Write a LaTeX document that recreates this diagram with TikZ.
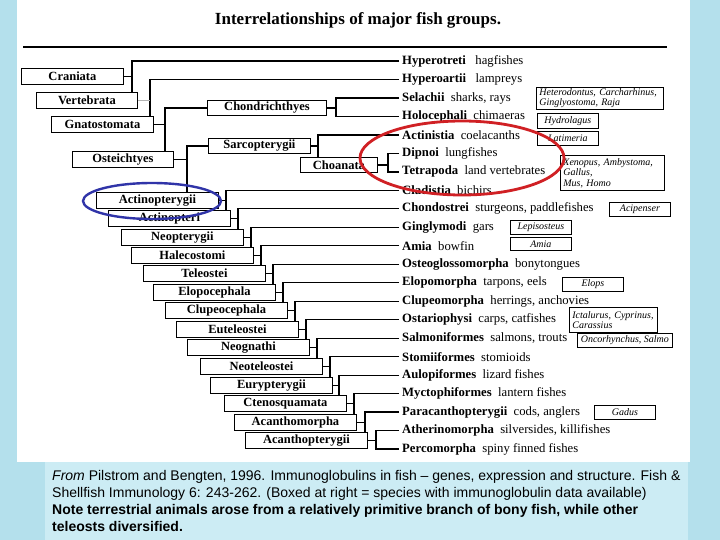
\documentclass[tikz,border=0pt]{standalone}
\usepackage{fontspec}
\setmainfont{Liberation Serif}
\setsansfont{Liberation Sans}
\usetikzlibrary{calc}
\usetikzlibrary{shadows}

\definecolor{water}{RGB}{180,224,236}
\definecolor{capblue}{RGB}{204,236,244}
\definecolor{ringred}{RGB}{208,32,36}
\definecolor{ringblue}{RGB}{48,52,168}

\tikzset{
  grp/.style={draw=black, line width=0.9pt, fill=white, anchor=north west, inner sep=0pt,
    minimum height=16pt, font=\bfseries\fontsize{12.5}{12.5}\selectfont,
    drop shadow={shadow xshift=1pt, shadow yshift=-1pt, fill=black!45, opacity=0.8}},
  stair/.style={grp, minimum width=122pt},
  leaf/.style={anchor=west, inner xsep=3pt, inner ysep=0pt, font=\fontsize{12.7}{12.7}\selectfont},
  spec/.style={draw=black, line width=0.8pt, fill=white, anchor=north west, inner xsep=3pt,
    inner ysep=1pt, align=center, font=\itshape\fontsize{10}{10.5}\selectfont},
  branch/.style={line width=1.3pt, black},
}

\begin{document}
\begin{tikzpicture}[x=1pt,y=-1pt]
        \useasboundingbox (0,0) rectangle (720,540);
        % page
        \fill[water] (0,0) rectangle (720,540);
        \fill[white] (17,0) rectangle (690,462);
        \fill[capblue] (45,462) rectangle (688,540);

        \node[font=\bfseries\fontsize{17}{17}\selectfont] (title) at (358,20) {Interrelationships of major fish groups.};
        \draw[line width=2pt] (23,47) -- (667,47);

        % groups
        \node[grp, minimum width=102pt] (craniata) at (21,68) {Craniata};
        \node[grp, minimum width=101pt] (vertebrata) at (36,92) {Vertebrata};
        \node[grp, minimum width=102pt] (gnatostomata) at (51,116) {Gnatostomata};
        \node[grp, minimum width=101pt] (osteichtyes) at (72,151) {Osteichtyes};
        \node[grp, minimum width=119pt, minimum height=15pt] (chondrichthyes) at (207,100) {Chondrichthyes};
        \node[grp, minimum width=102pt, minimum height=15pt] (sarcopterygii) at (208,138) {Sarcopterygii};
        \node[grp, minimum width=77pt, minimum height=15pt] (choanata) at (300,157) {Choanata};

        \node[stair] (actinopterygii) at (96,192) {Actinopterygii};
        \node[stair] (actinopteri) at (108,210) {Actinopteri};
        \node[stair] (neopterygii) at (121,229) {Neopterygii};
        \node[stair] (halecostomi) at (131,247) {Halecostomi};
        \node[stair] (teleostei) at (143,265) {Teleostei};
        \node[stair] (elopocephala) at (153,284) {Elopocephala};
        \node[stair] (clupeocephala) at (165,302) {Clupeocephala};
        \node[stair] (euteleostei) at (176,321) {Euteleostei};
        \node[stair] (neognathi) at (187,339) {Neognathi};
        \node[stair] (neoteleostei) at (200,358) {Neoteleostei};
        \node[stair] (eurypterygii) at (210,377) {Eurypterygii};
        \node[stair] (ctenosquamata) at (224,395) {Ctenosquamata};
        \node[stair] (acanthomorpha) at (234,414) {Acanthomorpha};
        \node[stair] (acanthopterygii) at (245,432) {Acanthopterygii};

        % terminal taxa
        \node[leaf] (hyperotreti) at (399,61.0) {\textbf{Hyperotreti}~~~hagfishes};
        \node[leaf] (hyperoartii) at (399,79.5) {\textbf{Hyperoartii}~~~lampreys};
        \node[leaf] (selachii) at (399,98.0) {\textbf{Selachii}~~sharks, rays};
        \node[leaf] (holocephali) at (399,116.4) {\textbf{Holocephali}~~chimaeras};
        \node[leaf] (actinistia) at (399,134.9) {\textbf{Actinistia}~~coelacanths};
        \node[leaf] (dipnoi) at (399,153.4) {\textbf{Dipnoi}~~lungfishes};
        \node[leaf] (tetrapoda) at (399,171.9) {\textbf{Tetrapoda}~~land vertebrates};
        \node[leaf] (cladistia) at (399,190.4) {\textbf{Cladistia}~~bichirs};
        \node[leaf] (chondostrei) at (399,208.8) {\textbf{Chondostrei}~~sturgeons, paddlefishes};
        \node[leaf] (ginglymodi) at (399,227.3) {\textbf{Ginglymodi}~~gars};
        \node[leaf] (amia) at (399,245.8) {\textbf{Amia}~~bowfin};
        \node[leaf] (osteoglossomorpha) at (399,264.3) {\textbf{Osteoglossomorpha}~~bonytongues};
        \node[leaf] (elopomorpha) at (399,282.8) {\textbf{Elopomorpha}~~tarpons, eels};
        \node[leaf] (clupeomorpha) at (399,301.2) {\textbf{Clupeomorpha}~~herrings, anchovies};
        \node[leaf] (ostariophysi) at (399,319.7) {\textbf{Ostariophysi}~~carps, catfishes};
        \node[leaf] (salmoniformes) at (399,338.2) {\textbf{Salmoniformes}~~salmons, trouts};
        \node[leaf] (stomiiformes) at (399,356.7) {\textbf{Stomiiformes}~~stomioids};
        \node[leaf] (aulopiformes) at (399,375.2) {\textbf{Aulopiformes}~~lizard fishes};
        \node[leaf] (myctophiformes) at (399,393.6) {\textbf{Myctophiformes}~~lantern fishes};
        \node[leaf] (paracanthopterygii) at (399,412.1) {\textbf{Paracanthopterygii}~~cods, anglers};
        \node[leaf] (atherinomorpha) at (399,430.6) {\textbf{Atherinomorpha}~~silversides, killifishes};
        \node[leaf] (percomorpha) at (399,449.1) {\textbf{Percomorpha}~~spiny finned fishes};

        % species with immunoglobulin data
        \node[spec, text width=121pt, align=left] (sp_shark) at (536,87) {Heterodontus, Carcharhinus,\\Ginglyostoma, Raja};
        \node[spec, minimum width=61pt, minimum height=15pt] (sp_hydro) at (537,113) {Hydrolagus};
        \node[spec, minimum width=61pt, minimum height=14pt] (sp_lati) at (537,131) {Latimeria};
        \node[spec, text width=98pt, align=left, minimum height=35pt] (sp_tetra) at (560,155) {Xenopus, Ambystoma,\\Gallus,\\Mus, Homo};
        \node[spec, minimum width=61pt, minimum height=14pt] (sp_acip) at (609,202) {Acipenser};
        \node[spec, minimum width=61pt, minimum height=14pt] (sp_lepi) at (510,220) {Lepisosteus};
        \node[spec, minimum width=61pt, minimum height=13pt] (sp_amia) at (510,237) {Amia};
        \node[spec, minimum width=61pt, minimum height=14pt] (sp_elops) at (562,277) {Elops};
        \node[spec, text width=82pt, align=left, minimum height=25pt] (sp_carp) at (569,307) {Ictalurus, Cyprinus,\\Carassius};
        \node[spec, minimum width=95pt, minimum height=14pt] (sp_salmo) at (577,333) {Oncorhynchus, Salmo};
        \node[spec, minimum width=61pt, minimum height=14pt] (sp_gadus) at (594,405) {Gadus};

        % branches ending on the next group
        \foreach \b/\up/\down/\d in {craniata/hyperotreti/vertebrata/8,
            vertebrata/hyperoartii/gnatostomata/12,
            gnatostomata/chondrichthyes/osteichtyes/11,
            osteichtyes/sarcopterygii/actinopterygii/13,
            sarcopterygii/actinistia/choanata/7,
            actinopterygii/cladistia/actinopteri/7,
            actinopteri/chondostrei/neopterygii/7,
            neopterygii/ginglymodi/halecostomi/7,
            halecostomi/amia/teleostei/7,
            teleostei/osteoglossomorpha/elopocephala/7,
            elopocephala/elopomorpha/clupeocephala/7,
            clupeocephala/clupeomorpha/euteleostei/7,
            euteleostei/ostariophysi/neognathi/7,
            neognathi/salmoniformes/neoteleostei/7,
            neoteleostei/stomiiformes/eurypterygii/7,
            eurypterygii/aulopiformes/ctenosquamata/6,
            ctenosquamata/myctophiformes/acanthomorpha/7,
            acanthomorpha/paracanthopterygii/acanthopterygii/8}
        {
            \coordinate (v) at ($(\b.east)+(\d,0)$);
            \draw[branch] (\up.west) -| (v |- \down.north);
            \draw[branch] (\b.east) -- (v);
        }
        % branches ending on two taxa
        \foreach \b/\up/\down/\d in {chondrichthyes/selachii/holocephali/9,
            choanata/dipnoi/tetrapoda/10,
            acanthopterygii/atherinomorpha/percomorpha/8}
        {
            \coordinate (v) at ($(\b.east)+(\d,0)$);
            \draw[branch] (\up.west) -| (v) |- (\down.west);
            \draw[branch] (\b.east) -- (v);
        }
        \draw[branch, gray!60] (vertebrata.east) -- ++(12,0);

        % highlights
        \draw[ringblue, line width=2.4pt] (152,201) ellipse [x radius=69pt, y radius=18pt];
        \draw[ringred, line width=2.8pt] (462,158) ellipse [x radius=102pt, y radius=37pt];

        \node[anchor=north west, inner sep=0pt, align=left, font=\sffamily\fontsize{14}{17}\selectfont] (caption) at (52,470) {\textit{From} Pilstrom and Bengten, 1996. Immunoglobulins in fish – genes, expression and structure. Fish \&\\
            Shellfish Immunology 6: 243-262. (Boxed at right = species with immunoglobulin data available)\\
            \textbf{Note terrestrial animals arose from a relatively primitive branch of bony fish, while other}\\
            \textbf{teleosts diversified.}};
\end{tikzpicture}
\end{document}
